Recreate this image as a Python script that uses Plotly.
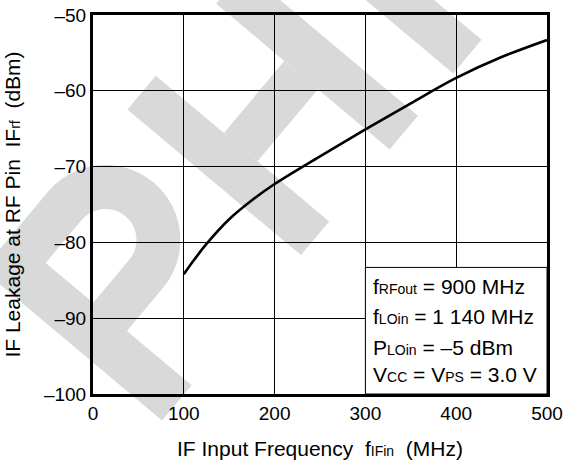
import math
import plotly.graph_objects as go

# ---------------- data ----------------
freq_mhz = [100, 112, 125, 150, 175, 200, 250, 300, 350, 400, 450, 500]
leak_dbm = [-84.2, -82.2, -80.2, -76.95, -74.45, -72.3, -68.65, -65.1, -61.65, -58.3, -55.55, -53.3]

x_tick_vals = [0, 100, 200, 300, 400, 500]
x_tick_text = ["0", "100", "200", "300", "400", "500"]
y_tick_vals = [-100, -90, -80, -70, -60, -50]
y_tick_text = ["\u2013100", "\u201390", "\u201380", "\u201370", "\u201360", "\u201350"]

SUB = '<span style="font-size:14px">%s</span>'
cond_lines = [
    "f" + SUB % "RFout" + " = 900 MHz",
    "f" + SUB % "LOin" + " = 1 140 MHz",
    "P" + SUB % "LOin" + " = \u20135 dBm",
    "V" + SUB % "CC" + " = V" + SUB % "PS" + " = 3.0 V",
]

# ---------------- layout geometry ----------------
W, H = 566, 466
L, R, T, B = 93, 19, 15, 72
PW, PH = W - L - R, H - T - B
FONT = "Liberation Sans, Arial, sans-serif"

# watermark glyph frame (text rotated ~50 deg), pixel coordinates
ANG = math.radians(50)
RX, RY = math.cos(ANG), -math.sin(ANG)      # reading direction
GX, GY = -math.sin(ANG), -math.cos(ANG)     # glyph "up"


def uv_to_px(u, v):
    return (u * RX + v * GX, u * RY + v * GY)


def to_paper(px, py):
    return ((px - L) / PW, (H - B - py) / PH)


def path_from_uv(loops):
    s = ""
    for loop in loops:
        pts = [to_paper(*uv_to_px(u, v)) for (u, v) in loop]
        s += "M %.4f %.4f " % pts[0]
        for q in pts[1:]:
            s += "L %.4f %.4f " % q
        s += "Z "
    return s


def arc(cu, cv, r, a0, a1, n=24):
    return [(cu + r * math.cos(math.radians(a0 + (a1 - a0) * i / n)),
             cv + r * math.sin(math.radians(a0 + (a1 - a0) * i / n))) for i in range(n + 1)]


BASE = -394.5
# letter P
p_outer = [(-218, BASE), (-218, -160), (-116, -160)] + arc(-116, -235, 75, 90, -90) + \
          [(-172, -310), (-172, BASE)]
p_inner = [(-172, -204), (-116, -204)] + arc(-116, -235, 31, 90, -90) + [(-172, -266)]
# letter H
h_left = [(-2, BASE), (-2, -168), (42, -168), (42, BASE)]
h_right = [(136, BASE), (136, -168), (180, -168), (180, BASE)]
h_bar = [(42, -301), (42, -257), (136, -257), (136, -301)]
# letter I
i_stem = [(235, BASE), (235, -168), (279, -168), (279, BASE)]

GRAY = "#d9d9d9"
shapes = [
    dict(type="path", xref="paper", yref="paper", path=path_from_uv([p_outer, p_inner]),
         fillcolor=GRAY, fillrule="evenodd", line=dict(width=0), layer="below"),
]
for loop in (h_left, h_right, h_bar, i_stem):
    shapes.append(dict(type="path", xref="paper", yref="paper", path=path_from_uv([loop]),
                       fillcolor=GRAY, line=dict(width=0), layer="below"))

# conditions box
shapes.append(dict(type="rect", xref="x", yref="y", x0=300, x1=500, y0=-100, y1=-83.3,
                   fillcolor="white", line=dict(color="black", width=1), layer="between"))

fig = go.Figure()
fig.add_trace(go.Scatter(x=freq_mhz, y=leak_dbm, mode="lines",
                         line=dict(color="black", width=2.6, shape="spline", smoothing=1.0),
                         showlegend=False, hoverinfo="skip"))

annotations = []
row_y = [-85.88, -89.84, -93.80, -97.49]
for txt, yy in zip(cond_lines, row_y):
    annotations.append(dict(x=306, y=yy, xref="x", yref="y", text=txt, showarrow=False,
                            xanchor="left", yanchor="middle",
                            font=dict(family=FONT, size=21, color="black")))

fig.update_layout(
    width=W, height=H,
    margin=dict(l=L, r=R, t=T, b=B, autoexpand=False),
    paper_bgcolor="white", plot_bgcolor="rgba(0,0,0,0)",
    font=dict(family=FONT, size=19, color="black"),
    shapes=shapes, annotations=annotations,
    xaxis=dict(range=[0, 500], tickvals=x_tick_vals, ticktext=x_tick_text,
               showgrid=True, gridcolor="black", gridwidth=1,
               showline=True, linecolor="black", linewidth=3, mirror=True,
               ticks="", zeroline=False, automargin=False, tickfont=dict(size=19),
               title=dict(text="IF Input Frequency\u00a0\u00a0f" + SUB % "IFin" + "\u00a0\u00a0(MHz)",
                          standoff=19, font=dict(size=21))),
    yaxis=dict(range=[-100, -50], tickvals=y_tick_vals, ticktext=y_tick_text,
               showgrid=True, gridcolor="black", gridwidth=1,
               showline=True, linecolor="black", linewidth=3, mirror=True,
               ticks="", zeroline=False, automargin=False, tickfont=dict(size=19),
               title=dict(text="IF Leakage at RF Pin\u00a0\u00a0IF" + SUB % "rf" + "\u00a0\u00a0(dBm)",
                          standoff=18, font=dict(size=21))),
)

fig.write_html("out.html", config={"displayModeBar": False, "staticPlot": True},
               post_script="document.body.style.margin='0';document.body.style.padding='0';")
